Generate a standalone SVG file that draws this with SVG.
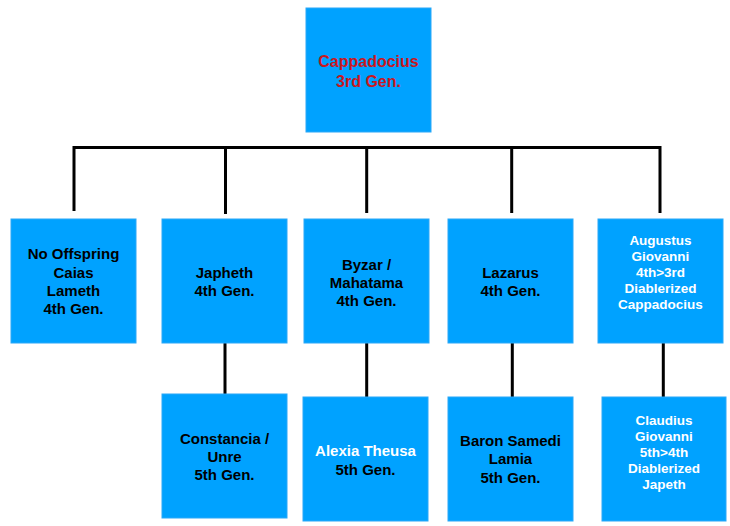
<svg xmlns="http://www.w3.org/2000/svg" width="730" height="526" viewBox="0 0 730 526">
<style>
.box{fill:#00a2ff;stroke:#2aa8f8;stroke-width:1}
.t{font-family:"Liberation Sans",Arial,Helvetica,sans-serif;font-weight:bold;font-size:15px;text-anchor:middle;fill:#000}
.s{font-size:13.5px}
.big{font-size:16px;fill:#c8171e}
.w{fill:#fff}
.conn{stroke:#000;stroke-width:3;fill:none}
</style>
<rect width="730" height="526" fill="#fff"/>
<g id="connectors">
<path class="conn" d="M74 147.5H660M74 146V211M225.5 146V214M366.7 146V213M511.7 146V213M660 146V213"/>
<path class="conn" d="M225 343V394M366.7 343V397M512.3 343V397M663.3 343V397"/>
</g>
<g id="cappadocius">
<rect class="box" x="306" y="8" width="125" height="124"/>
<text class="t big" x="368.5" y="66.7">Cappadocius</text>
<text class="t big" x="368.5" y="86.7">3rd Gen.</text>
</g>
<g id="caias">
<rect class="box" x="11" y="219" width="125" height="124"/>
<text class="t" x="73.5" y="259.4">No Offspring</text>
<text class="t" x="73.5" y="277.7">Caias</text>
<text class="t" x="73.5" y="296">Lameth</text>
<text class="t" x="73.5" y="314.3">4th Gen.</text>
</g>
<g id="japheth">
<rect class="box" x="162" y="219" width="125" height="124"/>
<text class="t" x="224.5" y="278">Japheth</text>
<text class="t" x="224.5" y="296.3">4th Gen.</text>
</g>
<g id="byzar">
<rect class="box" x="304" y="219" width="125" height="124"/>
<text class="t" x="366.5" y="269.5">Byzar /</text>
<text class="t" x="366.5" y="287.8">Mahatama</text>
<text class="t" x="366.5" y="306.1">4th Gen.</text>
</g>
<g id="lazarus">
<rect class="box" x="448" y="219" width="125" height="124"/>
<text class="t" x="510.5" y="278">Lazarus</text>
<text class="t" x="510.5" y="296.3">4th Gen.</text>
</g>
<g id="augustus">
<rect class="box" x="598" y="219" width="125" height="124"/>
<text class="t s w" x="660.5" y="244.8">Augustus</text>
<text class="t s w" x="660.5" y="260.9">Giovanni</text>
<text class="t s w" x="660.5" y="277">4th&gt;3rd</text>
<text class="t s w" x="660.5" y="293.1">Diablerized</text>
<text class="t s w" x="660.5" y="309.2">Cappadocius</text>
</g>
<g id="constancia">
<rect class="box" x="162" y="394" width="125" height="124"/>
<text class="t" x="224.5" y="443.7">Constancia /</text>
<text class="t" x="224.5" y="462">Unre</text>
<text class="t" x="224.5" y="480.3">5th Gen.</text>
</g>
<g id="alexia">
<rect class="box" x="303" y="397" width="125" height="124"/>
<text class="t w" x="365.5" y="456.4">Alexia Theusa</text>
<text class="t" x="365.5" y="474.7">5th Gen.</text>
</g>
<g id="baron">
<rect class="box" x="448" y="397" width="125" height="124"/>
<text class="t" x="510.5" y="446.1">Baron Samedi</text>
<text class="t" x="510.5" y="464.4">Lamia</text>
<text class="t" x="510.5" y="482.7">5th Gen.</text>
</g>
<g id="claudius">
<rect class="box" x="602" y="397" width="124" height="124"/>
<text class="t s w" x="664" y="424.8">Claudius</text>
<text class="t s w" x="664" y="440.9">Giovanni</text>
<text class="t s w" x="664" y="457">5th&gt;4th</text>
<text class="t s w" x="664" y="473.1">Diablerized</text>
<text class="t s w" x="664" y="489.2">Japeth</text>
</g>
</svg>
